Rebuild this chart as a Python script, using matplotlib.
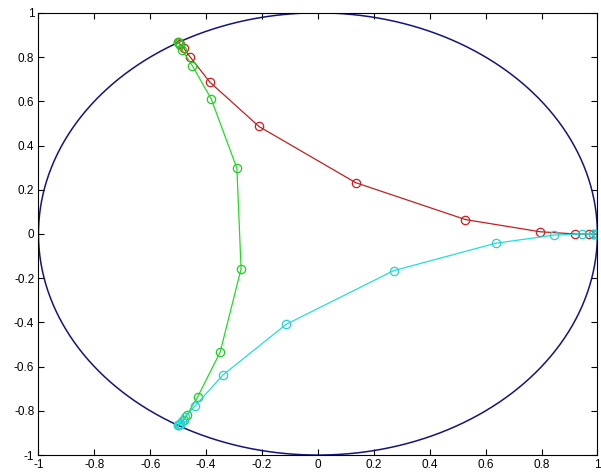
import numpy as np
import matplotlib

matplotlib.use("Agg")
import matplotlib.pyplot as plt

plt.rcParams["font.family"] = ["Liberation Sans", "DejaVu Sans"]

# path 1 (red): from (1, 0) to the upper cube root of unity
red_x = [1.0, 0.995, 0.985, 0.97, 0.92, 0.795, 0.528, 0.135, -0.211, -0.387, -0.457, -0.48, -0.493, -0.5]
red_y = [0.0, 0.0, 0.0, 0.0, 0.0, 0.01, 0.065, 0.232, 0.486, 0.687, 0.80, 0.84, 0.857, 0.866]

# path 2 (green): upper root down to lower root
green_x = [-0.5, -0.498, -0.495, -0.485, -0.449, -0.382, -0.29, -0.275, -0.35, -0.43, -0.469, -0.48, -0.492, -0.5]
green_y = [0.866, 0.862, 0.855, 0.83, 0.76, 0.611, 0.297, -0.158, -0.535, -0.736, -0.819, -0.84, -0.858, -0.866]

# path 3 (cyan): lower root back to (1, 0)
cyan_x = [-0.5, -0.498, -0.495, -0.488, -0.475, -0.44, -0.34, -0.114, 0.271, 0.636, 0.846, 0.946, 0.985, 0.995, 1.0]
cyan_y = [-0.866, -0.862, -0.858, -0.845, -0.826, -0.778, -0.638, -0.409, -0.166, -0.042, -0.005, 0.0, 0.0, 0.0, 0.0]

tick_values = [-1, -0.8, -0.6, -0.4, -0.2, 0, 0.2, 0.4, 0.6, 0.8, 1]
tick_labels = ["-1", "-0.8", "-0.6", "-0.4", "-0.2", "0", "0.2", "0.4", "0.6", "0.8", "1"]

fig = plt.figure(figsize=(6.01, 4.76), dpi=100, facecolor="white")
ax = fig.add_axes([0.064, 0.044, 0.93, 0.929])

theta = np.linspace(0, 2 * np.pi, 400)
ax.plot(np.cos(theta), np.sin(theta), color="#14147f", linewidth=1.1)

marker_style = dict(marker="o", markersize=6, markerfacecolor="none", markeredgewidth=0.9, linewidth=0.9)
ax.plot(red_x, red_y, color="#c41f1f", markeredgecolor="#cc1f1f", **marker_style)
ax.plot(green_x, green_y, color="#22dd22", markeredgecolor="#22cc22", **marker_style)
ax.plot(cyan_x, cyan_y, color="#22dddd", markeredgecolor="#22d4d4", **marker_style)

ax.set_xlim(-1, 1)
ax.set_ylim(-1, 1)
ax.set_xticks(tick_values)
ax.set_xticklabels(tick_labels)
ax.set_yticks(tick_values)
ax.set_yticklabels(tick_labels)
ax.tick_params(direction="in", top=True, right=True, length=4, width=0.8,
               labelsize=8.5, colors="black", pad=3)
for spine in ax.spines.values():
    spine.set_linewidth(0.8)
    spine.set_color("black")

fig.savefig("out.png", dpi=100, facecolor="white")
plt.close(fig)
